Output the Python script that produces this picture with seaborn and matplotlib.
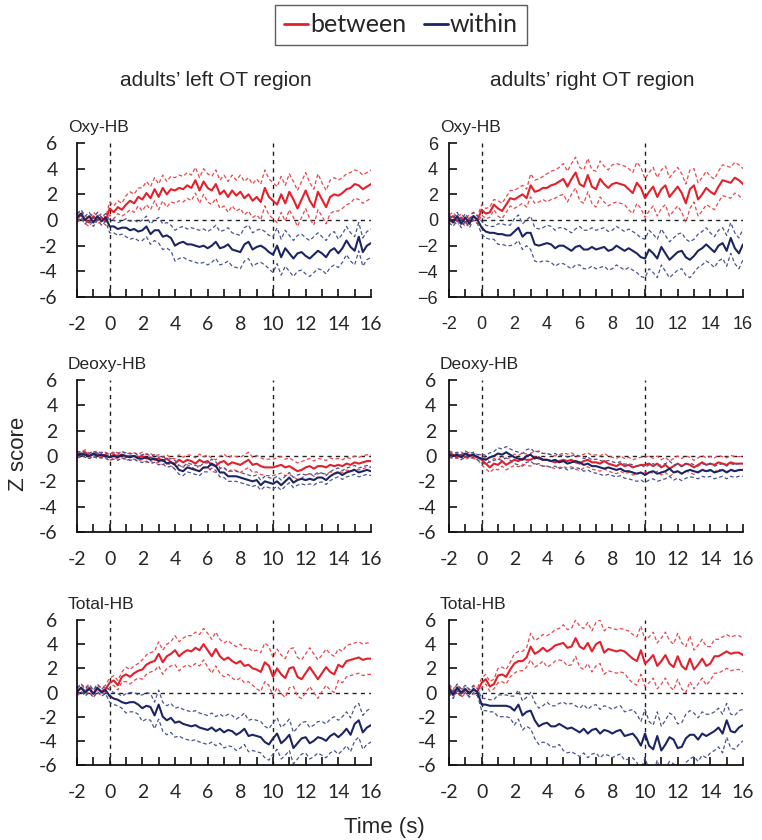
import numpy as np
import matplotlib
matplotlib.use("Agg")
import matplotlib.pyplot as plt
from matplotlib.lines import Line2D
import seaborn as sns

# time axis: 0.25 s samples from -2 to 16 s
time_s = np.linspace(-2, 16, 73)
x_tick_labels = ["-2", "0", "2", "4", "6", "8", "10", "12", "14", "16"]
y_tick_labels = ["-6", "-4", "-2", "0", "2", "4", "6"]
row_names = ["Oxy-HB", "Deoxy-HB", "Total-HB"]
col_titles = ["adults\u2019 left OT region", "adults\u2019 right OT region"]
group_names = ["between", "within"]

# mean z scores, 73 samples each
oxy_left_between = [0.1, 0.4, 0.0, -0.2, 0.3, 0.0, 0.2, -0.1,
                    0.9, 0.6, 1.0, 0.8, 1.2, 1.5, 1.3, 1.8, 1.6, 2.1, 1.7, 2.4,
                    1.8, 2.5, 2.0, 2.4, 2.3, 2.5, 2.4, 2.7, 2.5, 3.1, 2.3, 3.0,
                    2.5, 2.3, 2.8, 2.0, 2.3, 1.8, 2.3, 1.9, 2.2, 1.7, 2.0, 1.5,
                    1.8, 1.4, 2.5, 1.8, 1.5, 1.2, 2.0, 1.3, 2.2, 1.6, 0.9, 1.6,
                    2.3, 1.5, 1.0, 2.2, 1.6, 1.0, 1.8, 2.0, 1.9, 2.1, 2.4, 2.5,
                    2.8, 2.7, 2.4, 2.6, 2.8]
oxy_left_within = [0.2, 0.5, 0.0, 0.3, -0.2, 0.3, -0.1, 0.2,
                   -0.5, -0.5, -0.7, -0.6, -0.6, -0.8, -0.7, -0.9, -0.8, -0.5, -1.1, -0.8,
                   -0.8, -1.3, -1.2, -1.4, -2.0, -1.8, -1.7, -1.9, -1.9, -2.0, -2.1, -2.0,
                   -2.2, -2.0, -1.7, -2.2, -2.1, -1.9, -2.3, -2.4, -2.5, -1.9, -1.7, -2.3,
                   -2.1, -2.0, -2.2, -2.5, -2.7, -2.0, -2.9, -2.2, -2.6, -3.0, -2.6, -2.5,
                   -2.8, -3.0, -2.7, -2.4, -2.6, -2.9, -2.4, -2.2, -2.6, -2.2, -1.6, -2.1,
                   -2.4, -1.3, -2.5, -2.0, -1.8]
oxy_right_between = [0.1, 0.3, -0.1, 0.2, -0.2, 0.1, 0.3, 0.0,
                     0.8, 0.5, 0.6, 1.2, 0.9, 0.7, 1.2, 1.7, 1.6, 1.8, 2.0, 1.7,
                     2.7, 2.2, 2.3, 2.5, 2.5, 2.7, 2.8, 3.0, 3.2, 2.6, 3.2, 3.7,
                     2.8, 2.6, 3.5, 2.6, 2.4, 3.2, 2.8, 2.5, 2.8, 2.9, 2.8, 2.7,
                     2.4, 2.1, 2.9, 2.5, 1.7, 2.2, 2.6, 1.8, 2.4, 2.7, 1.8, 2.2,
                     2.6, 2.1, 1.3, 2.4, 2.7, 1.6, 2.0, 2.5, 2.2, 2.0, 2.6, 3.1,
                     3.0, 2.9, 3.3, 3.1, 2.8]
oxy_right_within = [0.1, -0.2, 0.3, -0.3, 0.2, -0.3, 0.3, 0.0,
                    -0.6, -0.9, -1.0, -1.0, -1.1, -1.1, -1.2, -1.2, -0.9, -0.6, -1.3, -1.0,
                    -1.0, -1.9, -2.0, -1.9, -1.8, -1.9, -2.2, -2.0, -2.0, -2.2, -2.4, -2.1,
                    -2.0, -2.3, -2.3, -2.1, -2.3, -2.2, -2.1, -2.4, -2.3, -2.0, -2.2, -2.4,
                    -2.2, -2.4, -2.6, -2.9, -3.0, -2.3, -2.6, -3.0, -2.1, -2.6, -3.1, -2.8,
                    -2.5, -2.4, -2.9, -3.1, -2.8, -2.4, -2.2, -1.9, -2.2, -2.5, -2.0, -1.8,
                    -2.4, -1.4, -2.2, -2.6, -1.9]
deoxy_left_between = [0.2, 0.1, 0.3, 0.0, 0.1, 0.2, 0.0, 0.1,
                      -0.1, 0.1, 0.0, 0.1, -0.1, 0.0, 0.0, -0.1, 0.0, -0.2, -0.1, -0.3,
                      -0.2, -0.4, -0.2, -0.5, -0.6, -0.3, -0.5, -0.3, -0.4, -0.6, -0.3, -0.5,
                      -0.4, -0.7, -0.8, -0.5, -0.4, -0.7, -0.5, -0.6, -0.7, -0.5, -0.3, -0.7,
                      -0.6, -0.8, -0.9, -0.9, -0.9, -0.8, -0.7, -0.9, -0.8, -1.0, -1.2, -1.1,
                      -0.9, -0.8, -1.0, -0.8, -0.8, -0.9, -0.7, -0.8, -0.7, -0.8, -0.6, -0.7,
                      -0.5, -0.6, -0.5, -0.4, -0.4]
deoxy_left_within = [0.0, 0.2, 0.1, 0.0, 0.2, 0.0, 0.1, 0.0,
                     -0.1, 0.0, -0.1, 0.1, 0.0, -0.1, 0.0, -0.2, -0.2, -0.1, -0.3, -0.2,
                     -0.4, -0.3, -0.6, -0.5, -0.7, -1.1, -1.2, -0.9, -1.0, -1.1, -1.2, -0.9,
                     -0.9, -0.6, -0.8, -1.3, -1.3, -1.6, -1.6, -1.6, -1.7, -1.8, -1.9, -2.0,
                     -1.9, -2.3, -2.0, -2.1, -2.2, -2.0, -2.3, -2.0, -1.7, -2.1, -1.9, -1.8,
                     -1.9, -1.8, -1.9, -1.7, -1.7, -1.9, -1.6, -1.4, -1.3, -1.5, -1.3, -1.2,
                     -1.1, -1.3, -1.2, -1.1, -1.2]
deoxy_right_between = [0.2, 0.1, 0.0, 0.1, -0.1, 0.1, 0.0, -0.1,
                       -0.3, -0.6, -0.9, -0.6, -0.7, -0.4, -0.7, -0.5, -0.3, -0.4, -0.2, -0.3,
                       -0.3, -0.1, -0.2, -0.3, -0.3, -0.4, -0.5, -0.4, -0.3, -0.4, -0.3, -0.5,
                       -0.6, -0.4, -0.3, -0.5, -0.5, -0.6, -0.4, -0.6, -0.7, -0.8, -0.6, -0.8,
                       -0.7, -0.9, -0.8, -0.7, -0.7, -0.6, -0.8, -0.6, -0.9, -0.7, -1.0, -0.8,
                       -0.6, -0.8, -0.6, -0.7, -0.9, -0.7, -0.5, -0.7, -0.6, -0.7, -0.5, -0.6,
                       -0.7, -0.5, -0.6, -0.6, -0.6]
deoxy_right_within = [0.1, 0.0, 0.1, -0.1, 0.2, 0.0, 0.1, -0.1,
                      -0.2, -0.3, -0.1, 0.0, 0.2, 0.1, 0.3, 0.1, -0.1, -0.2, -0.3, 0.0,
                      0.1, -0.2, -0.1, -0.3, -0.3, -0.4, -0.3, -0.5, -0.4, -0.6, -0.5, -0.4,
                      -0.5, -0.7, -0.6, -0.8, -0.8, -0.9, -1.0, -0.9, -1.0, -1.1, -1.0, -1.2,
                      -1.2, -1.3, -1.4, -1.3, -1.5, -1.3, -1.2, -1.4, -1.3, -1.2, -1.0, -1.3,
                      -1.2, -1.4, -1.2, -1.1, -1.2, -1.3, -1.1, -1.2, -1.1, -1.3, -1.2, -1.1,
                      -1.3, -1.1, -1.2, -1.1, -1.1]
total_left_between = [0.0, 0.4, 0.1, 0.4, -0.1, 0.3, 0.1, 0.3,
                      0.8, 1.0, 0.6, 1.3, 1.5, 1.3, 1.6, 1.8, 1.9, 2.3, 2.5, 2.6,
                      3.2, 2.5, 3.0, 3.2, 3.5, 3.0, 3.3, 3.5, 3.4, 3.7, 3.5, 4.0,
                      3.5, 3.0, 3.6, 3.0, 2.7, 2.9, 2.6, 2.4, 2.6, 2.2, 2.3, 2.0,
                      1.9, 1.7, 2.5, 2.2, 1.3, 2.0, 1.5, 1.2, 2.0, 2.1, 1.3, 1.1,
                      1.6, 2.1, 1.6, 1.1, 1.6, 2.1, 1.7, 1.5, 2.3, 2.1, 2.6, 2.7,
                      2.8, 2.9, 2.7, 2.8, 2.8]
total_left_within = [0.1, 0.4, 0.0, 0.3, -0.1, 0.4, 0.0, 0.2,
                     -0.3, -0.5, -0.6, -0.8, -0.9, -0.8, -0.8, -1.0, -1.3, -1.1, -1.2, -1.9,
                     -1.0, -2.0, -2.3, -2.1, -2.5, -2.4, -2.6, -2.7, -2.8, -2.7, -2.9, -3.0,
                     -3.1, -2.9, -3.2, -3.0, -3.3, -3.1, -3.2, -3.5, -3.3, -3.0, -3.6, -3.5,
                     -3.6, -3.7, -4.1, -4.3, -3.8, -3.4, -4.2, -3.9, -3.5, -4.6, -4.2, -3.8,
                     -3.7, -4.2, -4.0, -3.7, -3.8, -4.0, -3.6, -3.4, -3.7, -3.4, -3.0, -3.5,
                     -2.6, -2.3, -3.3, -2.9, -2.7]
total_right_between = [0.4, 0.0, 0.3, -0.1, 0.2, 0.0, 0.2, 0.1,
                       0.8, 1.1, 0.5, 0.7, 1.4, 1.5, 1.3, 1.9, 2.4, 2.6, 2.6, 2.9,
                       3.8, 3.2, 3.4, 3.7, 3.4, 3.6, 3.9, 4.0, 4.1, 3.7, 3.8, 4.5,
                       3.8, 3.6, 4.1, 3.4, 4.0, 4.2, 3.3, 3.6, 3.5, 3.4, 3.5, 3.4,
                       3.1, 2.8, 2.6, 3.5, 2.4, 2.7, 3.1, 2.2, 2.6, 3.1, 2.4, 2.1,
                       3.0, 2.2, 1.9, 2.8, 1.9, 2.3, 2.8, 2.2, 2.4, 3.0, 3.0, 3.2,
                       3.4, 3.2, 3.3, 3.3, 3.1]
total_right_within = [0.3, -0.2, 0.4, 0.0, 0.3, -0.1, 0.3, 0.0,
                      -1.0, -1.0, -1.1, -1.1, -1.1, -1.1, -1.1, -1.2, -1.5, -1.0, -1.9, -1.6,
                      -1.5, -2.3, -2.8, -2.6, -2.5, -2.8, -2.8, -2.6, -2.8, -3.0, -2.9, -3.1,
                      -3.3, -3.0, -3.4, -3.1, -3.0, -3.4, -3.1, -3.2, -3.4, -3.2, -3.1, -3.6,
                      -3.5, -3.4, -3.8, -4.4, -3.4, -4.4, -4.7, -3.6, -4.8, -4.3, -3.7, -3.9,
                      -4.6, -4.5, -3.8, -3.5, -3.5, -3.9, -3.4, -3.6, -3.4, -3.2, -2.9, -3.4,
                      -2.3, -3.2, -3.3, -2.9, -2.7]

# half-width of the dashed bands, one value per second (-2 ... 16 s)
oxy_left_between_sd = [0.3, 0.3, 0.5, 0.7, 0.9, 1.0, 1.0, 1.0, 1.1, 1.2, 1.3, 1.4, 1.4, 1.4, 1.4, 1.3, 1.2, 1.1, 1.1]
oxy_left_within_sd = [0.3, 0.3, 0.5, 0.7, 0.8, 1.0, 1.2, 1.3, 1.3, 1.3, 1.3, 1.3, 1.4, 1.4, 1.4, 1.3, 1.1, 1.1, 1.1]
oxy_right_between_sd = [0.3, 0.3, 0.4, 0.6, 0.7, 0.9, 1.1, 1.2, 1.3, 1.4, 1.5, 1.6, 1.5, 1.5, 1.5, 1.3, 1.2, 1.2, 1.2]
oxy_right_within_sd = [0.3, 0.3, 0.5, 0.8, 1.0, 1.3, 1.4, 1.4, 1.5, 1.5, 1.5, 1.5, 1.5, 1.4, 1.4, 1.3, 1.2, 1.2, 1.2]
deoxy_left_between_sd = [0.2, 0.2, 0.25, 0.25, 0.3, 0.3, 0.4, 0.45, 0.5, 0.55, 0.6, 0.65, 0.65, 0.65, 0.6, 0.55, 0.5, 0.5, 0.5]
deoxy_left_within_sd = [0.2, 0.2, 0.25, 0.25, 0.3, 0.3, 0.35, 0.35, 0.35, 0.4, 0.4, 0.4, 0.4, 0.4, 0.4, 0.35, 0.35, 0.35, 0.35]
deoxy_right_between_sd = [0.2, 0.2, 0.4, 0.4, 0.45, 0.5, 0.5, 0.55, 0.55, 0.6, 0.6, 0.6, 0.6, 0.6, 0.6, 0.55, 0.55, 0.55, 0.55]
deoxy_right_within_sd = [0.2, 0.2, 0.35, 0.45, 0.5, 0.5, 0.5, 0.5, 0.5, 0.55, 0.55, 0.6, 0.6, 0.6, 0.55, 0.5, 0.5, 0.5, 0.5]
total_left_between_sd = [0.3, 0.3, 0.4, 0.6, 0.8, 1.0, 1.2, 1.3, 1.4, 1.4, 1.4, 1.6, 1.6, 1.6, 1.6, 1.5, 1.3, 1.3, 1.3]
total_left_within_sd = [0.3, 0.3, 0.5, 0.8, 1.1, 1.2, 1.2, 1.2, 1.2, 1.3, 1.3, 1.3, 1.3, 1.3, 1.3, 1.4, 1.4, 1.4, 1.4]
total_right_between_sd = [0.3, 0.3, 0.4, 0.6, 0.8, 1.1, 1.3, 1.5, 1.7, 1.8, 1.8, 2.0, 1.9, 1.9, 1.9, 1.6, 1.4, 1.4, 1.4]
total_right_within_sd = [0.3, 0.3, 0.5, 0.9, 1.2, 1.5, 1.7, 2.0, 2.0, 2.0, 2.0, 2.0, 2.0, 2.0, 2.0, 1.8, 1.6, 1.4, 1.3]

panels = [
    [(oxy_left_between, oxy_left_between_sd, oxy_left_within, oxy_left_within_sd),
     (oxy_right_between, oxy_right_between_sd, oxy_right_within, oxy_right_within_sd)],
    [(deoxy_left_between, deoxy_left_between_sd, deoxy_left_within, deoxy_left_within_sd),
     (deoxy_right_between, deoxy_right_between_sd, deoxy_right_within, deoxy_right_within_sd)],
    [(total_left_between, total_left_between_sd, total_left_within, total_left_within_sd),
     (total_right_between, total_right_between_sd, total_right_within, total_right_within_sd)],
]

sns.set_style("ticks")
plt.rcParams["font.family"] = ["Liberation Sans", "DejaVu Sans"]

RED = "#e3202b"
NAVY = "#1c2563"
RED_LIGHT = "#e8474d"
NAVY_LIGHT = "#4a5590"

W, H = 762, 840
fig = plt.figure(figsize=(W / 100, H / 100), dpi=100)

# axes boxes in pixels: (left, right) per column, (top, bottom) per row
col_px = [(77, 371), (449, 743)]
row_px = [(143, 297), (380, 532), (620, 765)]

for r, (top, bot) in enumerate(row_px):
    for c, (lft, rgt) in enumerate(col_px):
        ax = fig.add_axes([lft / W, 1 - bot / H, (rgt - lft) / W, (bot - top) / H])
        between, between_sd, within, within_sd = panels[r][c]
        for mean, sd, col, light in [(between, between_sd, RED, RED_LIGHT),
                                     (within, within_sd, NAVY, NAVY_LIGHT)]:
            mean = np.array(mean)
            half = np.repeat(sd, 4)[:len(time_s)]
            sns.lineplot(x=time_s, y=mean + half, ax=ax, color=light, linewidth=0.9,
                         linestyle=(0, (3, 2)), errorbar=None)
            sns.lineplot(x=time_s, y=mean - half, ax=ax, color=light, linewidth=0.9,
                         linestyle=(0, (3, 2)), errorbar=None)
            sns.lineplot(x=time_s, y=mean, ax=ax, color=col, linewidth=1.5, errorbar=None)

        for xv in (0, 10):
            ax.axvline(xv, color="#222222", lw=1.0, ls=(0, (3, 3)), zorder=0)
        ax.axhline(0, color="#222222", lw=1.0, ls=(0, (3, 3)), zorder=0)

        ax.set_xlim(-2, 16)
        ax.set_ylim(-6, 6)
        sns.despine(ax=ax)
        for s in ("left", "bottom"):
            ax.spines[s].set_linewidth(1.3)
            ax.spines[s].set_color("#111111")
        ax.set_xlabel("")
        ax.set_ylabel("")

        ax.set_xticks(np.arange(-2, 17, 1), minor=True)
        ax.set_xticks(np.arange(-2, 17, 2))
        ax.set_yticks(np.arange(-6, 7, 2))
        ax.tick_params(axis="both", which="both", direction="in", color="#111111", width=1.2)
        ax.tick_params(axis="x", which="both", length=5.5, pad=14)
        ax.tick_params(axis="y", length=6)

        if r == 0 and c == 1:
            # this panel uses a different typeface in the original
            ax.set_xticklabels(x_tick_labels, fontsize=13, family="Liberation Sans")
            ax.set_yticklabels([s.replace("-", "\u2212") for s in y_tick_labels],
                               fontsize=13, family="Liberation Sans")
            ax.tick_params(axis="y", pad=8)
        else:
            ax.set_xticklabels(x_tick_labels, fontsize=14, family="Lato")
            ax.set_yticklabels(y_tick_labels, fontsize=14, family="Lato")
            ax.tick_params(axis="y", pad=14 if c == 0 else 9)

        # panel subtitle
        fig.text((lft - 9) / W, 1 - (top - 11) / H, row_names[r],
                 fontsize=12.5, ha="left", va="baseline")

# column titles
fig.text(216 / W, 1 - 80 / H, col_titles[0], fontsize=15, ha="center", va="center")
fig.text(592 / W, 1 - 80 / H, col_titles[1], fontsize=15, ha="center", va="center")

# axis labels
fig.text(19 / W, 1 - 454 / H, "Z score", fontsize=16, rotation=90, ha="center", va="center")
fig.text(384 / W, 1 - 827 / H, "Time (s)", fontsize=16, ha="center", va="center")

handles = [Line2D([], [], color=RED, lw=2), Line2D([], [], color=NAVY, lw=2)]
leg = fig.legend(handles, group_names, loc="center", bbox_to_anchor=(401 / W, 1 - 25 / H),
                 ncol=2, frameon=True, fancybox=False, handlelength=0.95, handletextpad=0.1,
                 columnspacing=0.7, borderpad=0.35, prop={"family": "Lato", "size": 18})
leg.get_frame().set_edgecolor("#333333")
leg.get_frame().set_linewidth(1.0)

fig.savefig("out.png", dpi=100)
